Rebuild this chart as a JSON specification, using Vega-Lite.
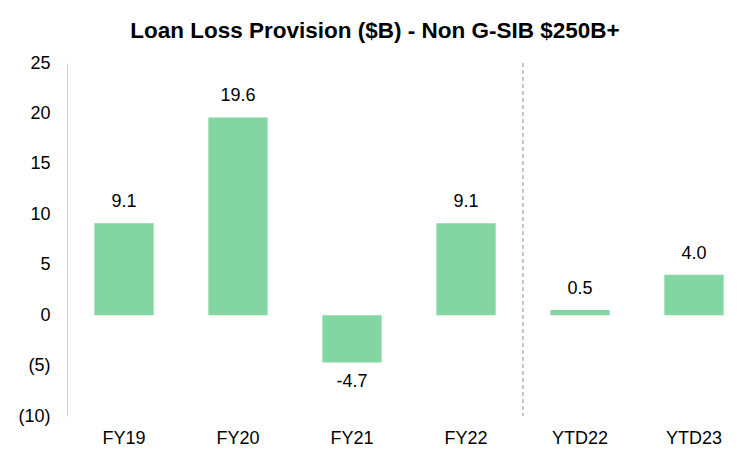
{
  "$schema": "https://vega.github.io/schema/vega-lite/v6.json",
  "autosize": "none",
  "width": 684,
  "height": 353,
  "padding": {"left": 67, "top": 63, "right": 0, "bottom": 34},
  "background": "white",
  "title": {
    "text": "Loan Loss Provision ($B) - Non G-SIB $250B+",
    "font": "Liberation Sans",
    "fontSize": 22.5,
    "fontWeight": "bold",
    "color": "black",
    "anchor": "middle",
    "dx": -34,
    "offset": 12
  },
  "config": {
    "view": {"stroke": null},
    "font": "Liberation Sans"
  },
  "data": {
    "values": [
      {"period": "FY19", "value": 9.1},
      {"period": "FY20", "value": 19.6},
      {"period": "FY21", "value": -4.7},
      {"period": "FY22", "value": 9.1},
      {"period": "YTD22", "value": 0.5},
      {"period": "YTD23", "value": 4.0}
    ]
  },
  "transform": [
    {"calculate": "replace(format(datum.value, '.1f'), '\u2212', '-')", "as": "label"}
  ],
  "encoding": {
    "x": {
      "field": "period",
      "type": "nominal",
      "sort": null,
      "scale": {"paddingInner": 0, "paddingOuter": 0},
      "axis": {
        "title": null,
        "orient": "bottom",
        "domain": false,
        "ticks": false,
        "labelAngle": 0,
        "labelFont": "Liberation Sans",
        "labelFontSize": 18,
        "labelColor": "black",
        "labelPadding": 13
      }
    }
  },
  "layer": [
    {
      "mark": {"type": "bar", "color": "#83D6A1", "width": {"band": 0.52}},
      "encoding": {
        "y": {
          "field": "value",
          "type": "quantitative",
          "scale": {"domain": [-10, 25], "nice": false, "zero": false},
          "axis": {
            "title": null,
            "values": [-10, -5, 0, 5, 10, 15, 20, 25],
            "grid": false,
            "ticks": false,
            "domain": true,
            "domainColor": "#d0d0d0",
            "domainWidth": 1,
            "labelFont": "Liberation Sans",
            "labelFontSize": 18,
            "labelColor": "black",
            "labelPadding": 17,
            "labelExpr": "datum.value < 0 ? '(' + abs(datum.value) + ')' : datum.value + ' '"
          }
        }
      }
    },
    {
      "mark": {"type": "rule", "color": "#d0d0d0", "strokeWidth": 1},
      "encoding": {"y": {"datum": 0}}
    },
    {
      "mark": {"type": "rule", "color": "#c8c8c8", "strokeWidth": 1, "strokeDash": [4, 3]},
      "encoding": {"x": {"datum": "YTD22", "bandPosition": 0}}
    },
    {
      "transform": [{"filter": "datum.value >= 0"}],
      "mark": {"type": "text", "baseline": "bottom", "dy": -12, "fontSize": 18, "font": "Liberation Sans", "color": "black"},
      "encoding": {
        "y": {"field": "value", "type": "quantitative"},
        "text": {"field": "label", "type": "nominal"}
      }
    },
    {
      "transform": [{"filter": "datum.value < 0"}],
      "mark": {"type": "text", "baseline": "top", "dy": 10, "fontSize": 18, "font": "Liberation Sans", "color": "black"},
      "encoding": {
        "y": {"field": "value", "type": "quantitative"},
        "text": {"field": "label", "type": "nominal"}
      }
    }
  ]
}
